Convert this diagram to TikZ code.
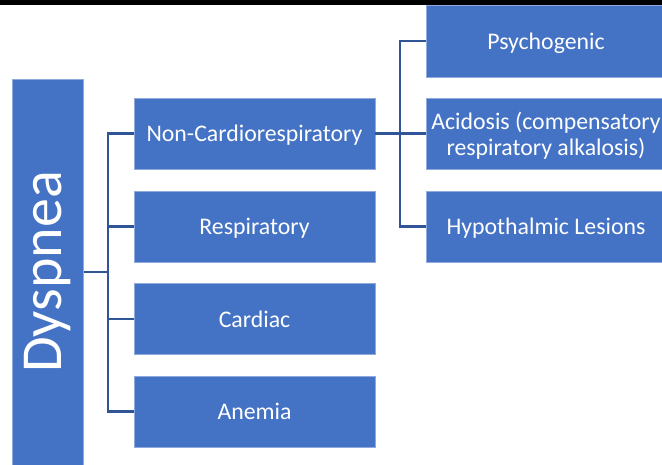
\documentclass[tikz,border=0pt]{standalone}
\usepackage{fontspec}
\setmainfont{Carlito}
\definecolor{boxblue}{HTML}{4472C4}
\definecolor{edgeblue}{HTML}{8FAADC}
\definecolor{linkblue}{HTML}{2F5597}
\begin{document}
\begin{tikzpicture}[x=1pt,y=-1pt,
  box/.style={fill=boxblue,draw=edgeblue,line width=0.6pt,text=white,font=\fontsize{23.8}{26}\selectfont,align=center,inner sep=0pt,text depth=0pt},
  link/.style={draw=linkblue,line width=2.4pt}]
\useasboundingbox (0,0) rectangle (662,464);
\fill[black] (0,0) rectangle (662,5);
% root
\node[box,minimum width=71pt,minimum height=400pt,anchor=north west] (root) at (12,79) {};
\node[text=white,rotate=90,font=\fontsize{58}{60}\selectfont] (roottext) at (48,272) {Dyspnea};
% level 1
\node[box,minimum width=241pt,minimum height=71pt] (nc) at (254.5,133.5) {Non-Cardiorespiratory};
\node[box,minimum width=241pt,minimum height=71pt] (resp) at (254.5,226.5) {Respiratory};
\node[box,minimum width=241pt,minimum height=71pt] (card) at (254.5,319) {Cardiac};
\node[box,minimum width=241pt,minimum height=71pt] (anem) at (254.5,411.5) {Anemia};
% level 2
\node[box,minimum width=240pt,minimum height=72pt] (psy) at (546,41) {Psychogenic};
\node[box,minimum width=240pt,minimum height=71pt] (acid) at (546,133.5) {Acidosis (compensatory\\respiratory alkalosis)};
\node[box,minimum width=240pt,minimum height=71pt] (hypo) at (546,226.5) {Hypothalmic Lesions};
% connectors level 1
\coordinate (j1) at (108,272);
\draw[link] (root.east |- j1) -- (j1);
\draw[link] (j1) |- (nc.west);
\draw[link] (j1) |- (resp.west);
\draw[link] (j1) |- (card.west);
\draw[link] (j1) |- (anem.west);
% connectors level 2
\coordinate (j2) at (400,133.5);
\draw[link] (nc.east) -- (j2);
\draw[link] (j2) |- (psy.west);
\draw[link] (j2) -- (acid.west);
\draw[link] (j2) |- (hypo.west);
\end{tikzpicture}
\end{document}
